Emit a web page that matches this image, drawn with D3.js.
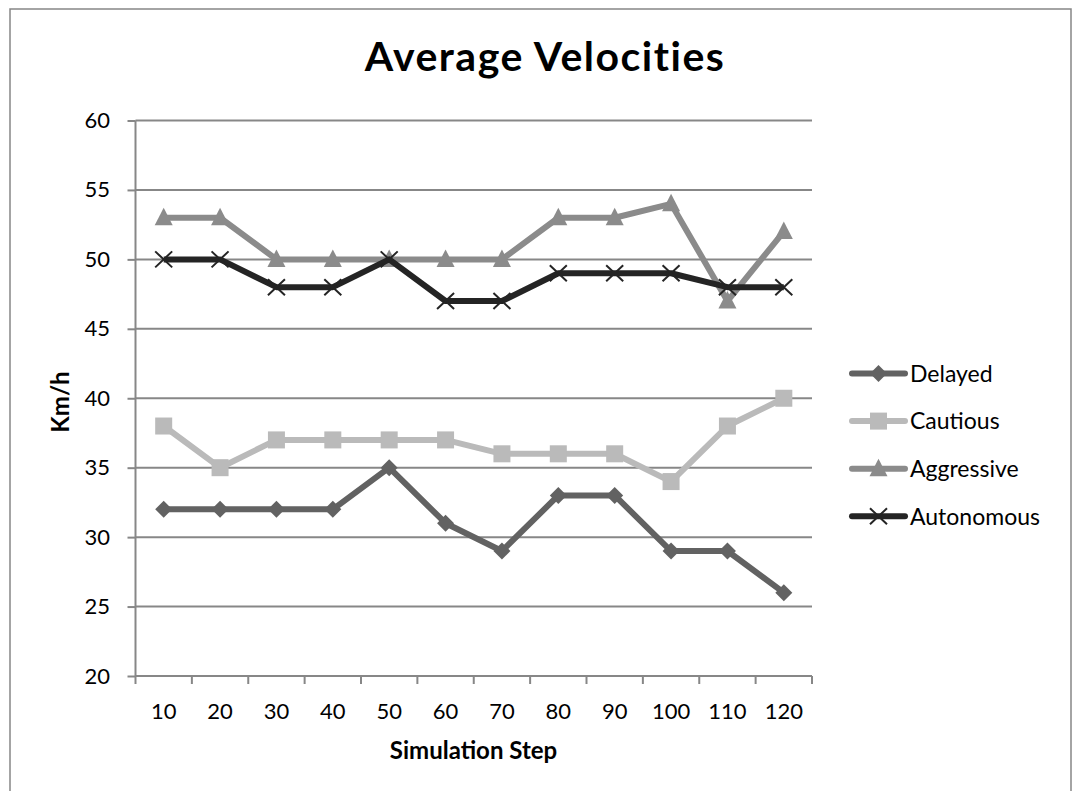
<!DOCTYPE html>
<html><head><meta charset="utf-8">
<script src="https://cdn.jsdelivr.net/npm/d3@7"></script>
<style>body{margin:0;background:#fff}svg{display:block}</style>
</head><body>
<script>
const categories = ["10","20","30","40","50","60","70","80","90","100","110","120"];
const delayed    = [32,32,32,32,35,31,29,33,33,29,29,26];
const cautious   = [38,35,37,37,37,37,36,36,36,34,38,40];
const aggressive = [53,53,50,50,50,50,50,53,53,54,47,52];
const autonomous = [50,50,48,48,50,47,47,49,49,49,48,48];
const yTicks = [20,25,30,35,40,45,50,55,60];
const seriesNames = ["Delayed","Cautious","Aggressive","Autonomous"];

const series = [
  {name:seriesNames[0], values:delayed, color:"#626262", marker:"diamond"},
  {name:seriesNames[1], values:cautious, color:"#bababa", marker:"square"},
  {name:seriesNames[2], values:aggressive, color:"#8b8b8b", marker:"triangle"},
  {name:seriesNames[3], values:autonomous, color:"#242424", marker:"x"}
];

const W=1073,H=791;
const font="Lato, 'Open Sans', sans-serif";
const svg=d3.select("body").append("svg").attr("width",W).attr("height",H);
svg.append("rect").attr("x",10).attr("y",9).attr("width",1061).attr("height",800)
  .attr("fill","#fff").attr("stroke","#868686").attr("stroke-width",1.5);

const L=135.5,R=812,T=120.5,B=676;
const x=d3.scaleBand().domain(categories).range([L,R]);
const y=d3.scaleLinear().domain([20,60]).range([B,T]);

// gridlines
svg.append("g").selectAll("line").data(yTicks.filter(d=>d>20)).join("line")
  .attr("x1",L).attr("x2",R).attr("y1",d=>y(d)).attr("y2",d=>y(d))
  .attr("stroke","#878787").attr("stroke-width",2);

// y axis
const ya=svg.append("g").attr("transform",`translate(${L},0)`)
  .call(d3.axisLeft(y).tickValues(yTicks).tickSize(8).tickPadding(17.5));
ya.select(".domain").attr("stroke","#878787").attr("stroke-width",2).attr("d",`M0,${T}V${B}`);
ya.selectAll(".tick line").attr("stroke","#878787").attr("stroke-width",2);
ya.selectAll("text").attr("font-family",font).attr("font-size",22).attr("fill","#000");

// x axis
const xa=svg.append("g").attr("transform",`translate(0,${B})`)
  .call(d3.axisBottom(x).tickSize(0));
xa.select(".domain").attr("stroke","#878787").attr("stroke-width",2).attr("d",`M${L},0H${R}`);
xa.selectAll(".tick line").remove();
xa.selectAll("text").attr("font-family",font).attr("font-size",22).attr("fill","#000")
  .attr("y",43).attr("dy",0);
// category boundary ticks
const bounds=categories.map(c=>x(c)).concat([R]);
svg.append("g").selectAll("line").data(bounds).join("line")
  .attr("x1",d=>d).attr("x2",d=>d).attr("y1",B).attr("y2",B+8)
  .attr("stroke","#878787").attr("stroke-width",2);

const cx=(d,i)=>x(categories[i])+x.bandwidth()/2;
const line=d3.line().x((d,i)=>cx(d,i)).y(d=>y(d));

function marker(g,type,color,px,py){
  if(type==="diamond"){
    g.append("path").attr("d",`M${px},${py-8.5}L${px+8.5},${py}L${px},${py+8.5}L${px-8.5},${py}Z`)
     .attr("fill",color);
  } else if(type==="square"){
    g.append("rect").attr("x",px-8.5).attr("y",py-8.5).attr("width",17).attr("height",17).attr("fill",color);
  } else if(type==="triangle"){
    g.append("path").attr("d",`M${px},${py-10}L${px+9},${py+7.5}L${px-9},${py+7.5}Z`).attr("fill",color);
  } else {
    g.append("path").attr("d",`M${px-8.5},${py-8}L${px+8.5},${py+8}M${px-8.5},${py+8}L${px+8.5},${py-8}`)
     .attr("stroke",color).attr("stroke-width",2);
  }
}

series.forEach(s=>{
  const g=svg.append("g");
  g.append("path").attr("d",line(s.values)).attr("fill","none").attr("stroke",s.color)
    .attr("stroke-width",6).attr("stroke-linejoin","round");
  s.values.forEach((v,i)=>marker(g,s.marker,s.color,cx(v,i),y(v)));
});

// legend
const lg=svg.append("g");
series.forEach((s,i)=>{
  const ly=373.5+i*47.6;
  lg.append("line").attr("x1",852).attr("x2",905).attr("y1",ly).attr("y2",ly)
    .attr("stroke",s.color).attr("stroke-width",6).attr("stroke-linecap","round");
  marker(lg,s.marker,s.color,878.5,ly);
  lg.append("text").attr("x",910).attr("y",ly).attr("dy","0.36em")
    .attr("font-family",font).attr("font-size",23).text(s.name);
});

// titles
svg.append("text").attr("x",545).attr("y",71).attr("text-anchor","middle")
  .attr("font-family",font).attr("font-weight","bold").attr("font-size",41)
  .attr("letter-spacing",1.5).text("Average Velocities");
svg.append("text").attr("x",473.5).attr("y",759).attr("text-anchor","middle")
  .attr("font-family",font).attr("font-weight","bold").attr("font-size",24).text("Simulation Step");
svg.append("text").attr("transform","translate(69,402) rotate(-90)").attr("text-anchor","middle")
  .attr("font-family",font).attr("font-weight","bold").attr("font-size",24).text("Km/h");
</script>
</body></html>
